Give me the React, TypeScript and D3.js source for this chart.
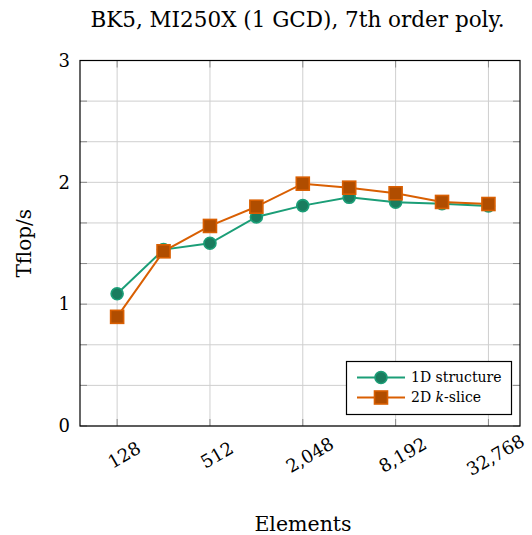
import React, { useEffect, useRef } from "react";
import * as d3 from "d3";

// data
const elements = [128, 256, 512, 1024, 2048, 4096, 8192, 16384, 32768];
const structure1D = [1.085, 1.448, 1.5, 1.716, 1.809, 1.877, 1.836, 1.825, 1.806];
const kSlice2D = [0.896, 1.434, 1.642, 1.8, 1.989, 1.956, 1.91, 1.839, 1.822];
const xTicks = [128, 512, 2048, 8192, 32768];
const yTicks = [0, 1, 2, 3];
const title = "BK5, MI250X (1 GCD), 7th order poly.";

const W = 532;
const H = 535;
const FONT = "'DejaVu Serif', serif";

const App = () => {
  const ref = useRef<SVGSVGElement | null>(null);

  useEffect(() => {
    const svg = d3.select(ref.current);
    svg.selectAll("*").remove();

    const left = 80, right = 520, top = 60.5, bottom = 426;

    const x = d3
      .scaleLog()
      .base(2)
      .domain([Math.pow(2, 6.2), Math.pow(2, 15.68)])
      .range([left, right]);
    const y = d3.scaleLinear().domain([0, 3]).range([bottom, top]);

    // grid
    const minorY = d3.range(0, 3.001, 1 / 3);
    svg
      .append("g")
      .selectAll("line")
      .data(minorY)
      .enter()
      .append("line")
      .attr("x1", left)
      .attr("x2", right)
      .attr("y1", (d) => y(d))
      .attr("y2", (d) => y(d))
      .attr("stroke", "#cfcfcf")
      .attr("stroke-width", 1);
    svg
      .append("g")
      .selectAll("line")
      .data(xTicks)
      .enter()
      .append("line")
      .attr("x1", (d) => x(d))
      .attr("x2", (d) => x(d))
      .attr("y1", top)
      .attr("y2", bottom)
      .attr("stroke", "#cfcfcf")
      .attr("stroke-width", 1);

    // tick marks
    const tickG = svg.append("g").attr("stroke", "#8a8a8a").attr("stroke-width", 1);
    minorY.forEach((d) => {
      tickG.append("line").attr("x1", left).attr("x2", left + 7).attr("y1", y(d)).attr("y2", y(d));
      tickG.append("line").attr("x1", right - 7).attr("x2", right).attr("y1", y(d)).attr("y2", y(d));
    });
    xTicks.forEach((d) => {
      tickG.append("line").attr("x1", x(d)).attr("x2", x(d)).attr("y1", bottom).attr("y2", bottom - 7);
      tickG.append("line").attr("x1", x(d)).attr("x2", x(d)).attr("y1", top).attr("y2", top + 7);
    });

    // frame
    svg
      .append("rect")
      .attr("x", left)
      .attr("y", top)
      .attr("width", right - left)
      .attr("height", bottom - top)
      .attr("fill", "none")
      .attr("stroke", "#000")
      .attr("stroke-width", 1.2);

    // tick labels
    svg
      .append("g")
      .selectAll("text")
      .data(yTicks)
      .enter()
      .append("text")
      .attr("x", left - 10)
      .attr("y", (d) => y(d))
      .attr("dy", "0.35em")
      .attr("text-anchor", "end")
      .attr("font-family", FONT)
      .attr("font-size", 18)
      .text((d) => d);

    const fmt = d3.format(",");
    svg
      .append("g")
      .selectAll("text")
      .data(xTicks)
      .enter()
      .append("text")
      .attr("transform", (d) => `translate(${x(d) + 7},${455}) rotate(-30)`)
      .attr("text-anchor", "middle")
      .attr("dy", "0.35em")
      .attr("font-family", FONT)
      .attr("font-size", 18)
      .text((d) => fmt(d));

    // axis labels and title
    svg
      .append("text")
      .attr("x", (left + right) / 2 + 3)
      .attr("y", 531)
      .attr("text-anchor", "middle")
      .attr("font-family", FONT)
      .attr("font-size", 20.5)
      .text("Elements");
    svg
      .append("text")
      .attr("transform", `translate(31,${(top + bottom) / 2}) rotate(-90)`)
      .attr("text-anchor", "middle")
      .attr("font-family", FONT)
      .attr("font-size", 20)
      .text("Tflop/s");
    svg
      .append("text")
      .attr("x", 297.5)
      .attr("y", 27)
      .attr("text-anchor", "middle")
      .attr("font-family", FONT)
      .attr("font-size", 21.5)
      .text(title);

    // series
    const series = [
      { name: "1D structure", values: structure1D, color: "#1b9e77", fill: "#1a7c5e", shape: "circle" },
      { name: "2D k-slice", values: kSlice2D, color: "#d95f02", fill: "#b04d00", shape: "square" },
    ];

    const line = d3
      .line<number>()
      .x((_, i) => x(elements[i]))
      .y((d) => y(d));

    const drawMarker = (g: any, shape: string, cx: number, cy: number, color: string, fill: string) => {
      if (shape === "circle") {
        g.append("circle")
          .attr("cx", cx)
          .attr("cy", cy)
          .attr("r", 6)
          .attr("fill", fill)
          .attr("stroke", color)
          .attr("stroke-width", 1.6);
      } else {
        g.append("rect")
          .attr("x", cx - 6.5)
          .attr("y", cy - 6.5)
          .attr("width", 13)
          .attr("height", 13)
          .attr("fill", fill)
          .attr("stroke", color)
          .attr("stroke-width", 1.6);
      }
    };

    series.forEach((s) => {
      svg
        .append("path")
        .datum(s.values)
        .attr("d", line)
        .attr("fill", "none")
        .attr("stroke", s.color)
        .attr("stroke-width", 2);
      const g = svg.append("g");
      s.values.forEach((v, i) => drawMarker(g, s.shape, x(elements[i]), y(v), s.color, s.fill));
    });

    // legend
    const lg = svg.append("g");
    lg.append("rect")
      .attr("x", 346.5)
      .attr("y", 361.5)
      .attr("width", 165)
      .attr("height", 53)
      .attr("fill", "#fff")
      .attr("stroke", "#000")
      .attr("stroke-width", 1.2);
    series.forEach((s, i) => {
      const ly = 377.5 + i * 20;
      lg.append("line")
        .attr("x1", 357)
        .attr("x2", 405)
        .attr("y1", ly)
        .attr("y2", ly)
        .attr("stroke", s.color)
        .attr("stroke-width", 2);
      drawMarker(lg, s.shape, 381, ly, s.color, s.fill);
      const t = lg
        .append("text")
        .attr("x", 411)
        .attr("y", ly)
        .attr("dy", "0.35em")
        .attr("font-family", FONT)
        .attr("font-size", 14);
      if (i === 0) {
        t.text(s.name);
      } else {
        t.append("tspan").text("2D ");
        t.append("tspan").attr("font-style", "italic").text("k");
        t.append("tspan").text("-slice");
      }
    });
  }, []);

  return (
    <svg
      ref={ref}
      width={W}
      height={H}
      style={{ position: "absolute", left: 0, top: 0, background: "#fff" }}
    />
  );
};

export default App;
